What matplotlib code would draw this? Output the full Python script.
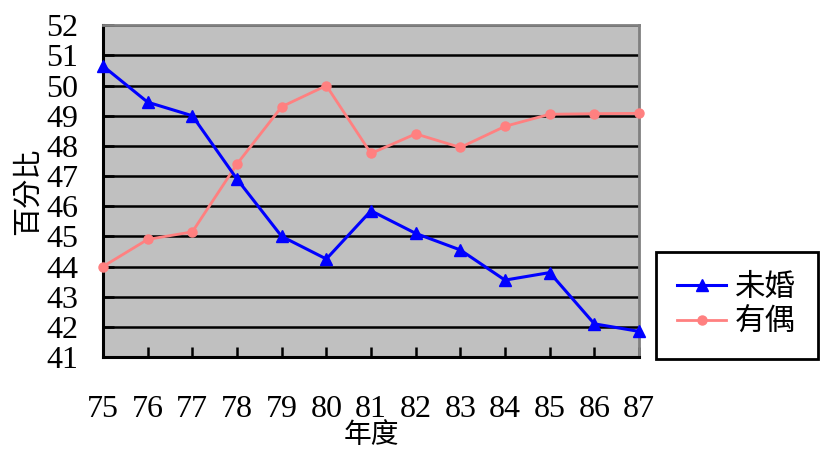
import matplotlib
matplotlib.use("Agg")
import matplotlib.pyplot as plt
import numpy as np

plt.rcParams['font.family'] = ['Liberation Serif', 'Noto Sans CJK TC']

years = [75, 76, 77, 78, 79, 80, 81, 82, 83, 84, 85, 86, 87]
unmarried = [50.65, 49.45, 49.0, 46.9, 45.0, 44.25, 45.85, 45.1, 44.55, 43.55, 43.8, 42.1, 41.85]
married = [44.0, 44.9, 45.15, 47.4, 49.3, 50.0, 47.75, 48.4, 47.95, 48.65, 49.05, 49.07, 49.08]
yticks = np.arange(41, 53, 1)

fig = plt.figure(figsize=(8.24, 4.51), dpi=100)
ax = fig.add_axes([0.125, 0.2084, 0.6505, 0.7355])
ax.set_facecolor("#c0c0c0")

ax.plot(years, unmarried, color="#0000ff", linewidth=2.2, marker="^", markersize=8,
        label="未婚", clip_on=False, zorder=4)
ax.plot(years, married, color="#ff8080", linewidth=2.0, marker="o", markersize=6.5,
        label="有偶", clip_on=False, zorder=3)

ax.set_xlim(75, 87)
ax.set_ylim(41, 52)
ax.set_xticks(years)
ax.set_yticks(yticks)
ax.yaxis.grid(True, color="black", linewidth=1.8)
ax.set_axisbelow(True)

ax.tick_params(axis="y", direction="in", length=8, width=1.8, pad=18, labelsize=23)
ax.tick_params(axis="x", direction="in", length=7, width=1.8, pad=27, labelsize=23)

for side in ["left", "bottom"]:
    ax.spines[side].set_color("black")
    ax.spines[side].set_linewidth(2.2)
for side in ["top", "right"]:
    ax.spines[side].set_color("#808080")
    ax.spines[side].set_linewidth(2.0)

ax.set_xlabel("年度", fontsize=20, labelpad=0)
ax.set_ylabel("百分比", fontsize=21, labelpad=3)

leg = fig.legend(loc="center", bbox_to_anchor=(0.894, 0.322), fontsize=22,
                 frameon=True, fancybox=False, edgecolor="black", framealpha=1,
                 handlelength=1.6, handletextpad=0.3, labelspacing=0.2, borderpad=0.7)
leg.get_frame().set_linewidth(2.0)

fig.savefig("out.png", dpi=100)
